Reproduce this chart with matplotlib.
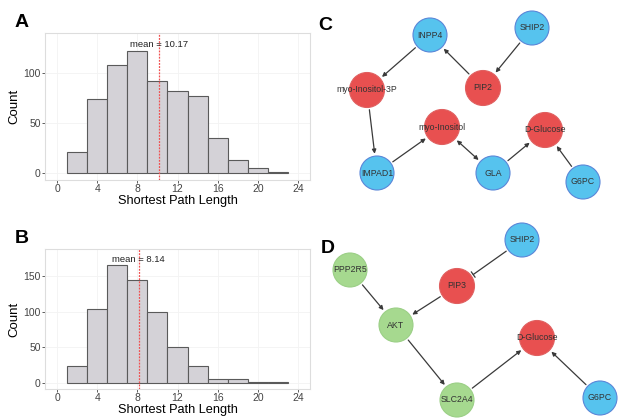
import numpy as np
import matplotlib
matplotlib.use('Agg')
from matplotlib import pyplot as plt
from matplotlib.patches import Circle, FancyArrowPatch

plt.rcParams['font.family'] = ['Liberation Sans', 'DejaVu Sans']

# histogram data (bins of width 2 from 1 to 23)
bin_edges = np.arange(1, 25, 2)
counts_a = [21, 74, 108, 122, 92, 82, 77, 35, 13, 5, 1]
counts_b = [23, 103, 166, 144, 100, 50, 23, 5, 5, 1, 1]
mean_a = 10.17
mean_b = 8.14
x_ticks = [0, 4, 8, 12, 16, 20, 24]

# network C
nodes_c = ['INPP4', 'SHIP2', 'myo-Inositol-3P', 'PIP2', 'myo-Inositol',
           'D-Glucose', 'IMPAD1', 'GLA', 'G6PC']
kind_c = ['gene', 'gene', 'met', 'met', 'met', 'met', 'gene', 'gene', 'gene']
edges_c = [('INPP4', 'myo-Inositol-3P', 'act'), ('PIP2', 'INPP4', 'act'),
           ('SHIP2', 'PIP2', 'act'), ('myo-Inositol-3P', 'IMPAD1', 'act'),
           ('IMPAD1', 'myo-Inositol', 'act'), ('myo-Inositol', 'GLA', 'both'),
           ('GLA', 'D-Glucose', 'act'), ('G6PC', 'D-Glucose', 'act')]

# network D
nodes_d = ['SHIP2', 'PPP2R5', 'PIP3', 'AKT', 'D-Glucose', 'SLC2A4', 'G6PC']
kind_d = ['gene', 'path', 'met', 'path', 'met', 'path', 'gene']
edges_d = [('SHIP2', 'PIP3', 'inh'), ('PPP2R5', 'AKT', 'act'),
           ('PIP3', 'AKT', 'act'), ('AKT', 'SLC2A4', 'act'),
           ('SLC2A4', 'D-Glucose', 'act'), ('G6PC', 'D-Glucose', 'act')]

# layout in figure pixels
layout_c = {'INPP4': (430, 35), 'SHIP2': (532, 28), 'myo-Inositol-3P': (367, 90),
            'PIP2': (483, 88), 'myo-Inositol': (442, 127), 'D-Glucose': (545, 130),
            'IMPAD1': (377, 173), 'GLA': (493, 173), 'G6PC': (583, 182)}
layout_d = {'SHIP2': (522, 240), 'PPP2R5': (350, 270), 'PIP3': (457, 286),
            'AKT': (396, 325), 'D-Glucose': (537, 338), 'SLC2A4': (457, 400),
            'G6PC': (600, 398)}

fill = {'gene': '#56c3ee', 'met': '#e85050', 'path': '#a6d98f'}
edge = {'gene': '#5a86d8', 'met': '#e06060', 'path': '#9bcf86'}

fig = plt.figure(figsize=(6.2, 4.18), dpi=100)


def hist_panel(rect, counts, mean, ylim, yticks, letter):
    ax = fig.add_axes(rect)
    centers = bin_edges[:-1] + 1
    ax.bar(centers, counts, width=2, color='#d4d2d7', edgecolor='#5a5a5a', lw=0.8, zorder=2)
    ax.axvline(mean, color='#f05050', lw=0.9, ls=(0, (1.5, 1)), zorder=3)
    ax.text(mean, ylim[1] * 0.92, 'mean = %.2f' % mean, ha='center', va='center',
            fontsize=6.8, color='#222222', zorder=4)
    ax.set_xlim(-1.2, 25.2)
    ax.set_ylim(*ylim)
    ax.set_xticks(x_ticks)
    ax.set_yticks(yticks)
    ax.grid(color='#f3f3f3', lw=0.6, zorder=0)
    for s in ax.spines.values():
        s.set_color('#dddddd')
        s.set_linewidth(0.8)
    ax.tick_params(labelsize=7.5, colors='#444444', length=2, width=0.6, pad=1)
    ax.set_xlabel('Shortest Path Length', fontsize=9.2, labelpad=0.5)
    ax.set_ylabel('Count', fontsize=9.5, labelpad=2)
    fig.text(15 / 620, rect[1] + rect[3] + 0.015, letter, fontsize=14, fontweight='bold')
    return ax


hist_panel([45 / 620, 1 - 180 / 418, 265 / 620, 147 / 418], counts_a, mean_a,
           (-6.5, 140), [0, 50, 100], 'A')
hist_panel([45 / 620, 1 - 389 / 418, 265 / 620, 140 / 418], counts_b, mean_b,
           (-9, 188), [0, 50, 100, 150], 'B')

net = fig.add_axes([0.5, 0, 0.5, 1])
net.set_xlim(310, 620)
net.set_ylim(418, 0)
net.axis('off')


def draw_net(nodes, kinds, edges, layout):
    circ = {}
    for n, k in zip(nodes, kinds):
        r = 17.5 if k == 'met' else 17
        c = Circle(layout[n], r, facecolor=fill[k], edgecolor=edge[k], lw=0.8, zorder=2)
        net.add_patch(c)
        circ[n] = c
        net.text(layout[n][0], layout[n][1], n, ha='center', va='center',
                 fontsize=6.3, color='#333333', zorder=4)
    for a, b, t in edges:
        if t == 'act':
            style = '-|>'
        elif t == 'both':
            style = '<|-|>'
        else:
            style = '-[,widthB=0.4,lengthB=0'
        ar = FancyArrowPatch(layout[a], layout[b], patchA=circ[a], patchB=circ[b],
                             arrowstyle=style, mutation_scale=6, lw=0.9,
                             color='#3a3a3a', zorder=1)
        net.add_patch(ar)


draw_net(nodes_c, kind_c, edges_c, layout_c)
draw_net(nodes_d, kind_d, edges_d, layout_d)

fig.text(318 / 620, 1 - 30 / 418, 'C', fontsize=14, fontweight='bold')
fig.text(321 / 620, 1 - 253 / 418, 'D', fontsize=14, fontweight='bold')

fig.savefig('out.png', dpi=100)
